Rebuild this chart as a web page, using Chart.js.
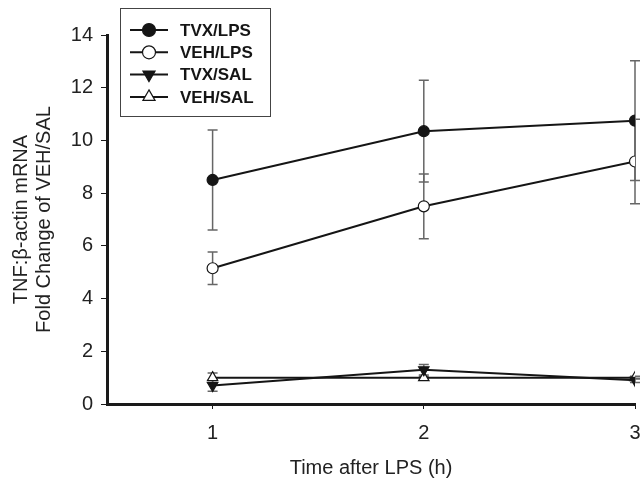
<!DOCTYPE html>
<html>
<head>
<meta charset="utf-8">
<script src="https://cdn.jsdelivr.net/npm/chart.js@4"></script>
<style>
  html, body { margin: 0; padding: 0; background: #fff; overflow: hidden; }
  #wrap { width: 700px; height: 480px; }
</style>
</head>
<body>
<div id="wrap"><canvas id="chart" width="700" height="480"></canvas></div>
<script>
// time points (h)
const hours = [1, 2, 3];
const yTicks = [0, 2, 4, 6, 8, 10, 12, 14];

// group means and error bars
const tvxLps = [8.5, 10.35, 10.75];
const tvxLpsErr = [1.9, 1.93, 2.27];
const vehLps = [5.15, 7.5, 9.2];
const vehLpsErr = [0.62, 1.23, 1.6];
const tvxSal = [0.7, 1.3, 0.9];
const tvxSalErr = [0.22, 0.2, 0.08];
const vehSal = [1.0, 1.0, 1.0];
const vehSalErr = [0.18, 0.05, 0.05];

const FONT = '"Liberation Sans", Arial, sans-serif';

function points(vals) {
  return hours.map((h, i) => ({ x: h, y: vals[i] }));
}

function makeSet(label, vals, errs, style, fill, rot) {
  return {
    label: label,
    data: points(vals),
    errors: errs,
    borderColor: '#151515',
    borderWidth: 2,
    pointStyle: style,
    pointRotation: rot || 0,
    pointRadius: style === 'triangle' ? 6 : 5.5,
    pointBackgroundColor: fill,
    pointBorderColor: '#151515',
    pointBorderWidth: 1.2,
    tension: 0
  };
}

// error bars, drawn with the chart's own scales
const errorBars = {
  id: 'errorBars',
  beforeDatasetsDraw(chart) {
    const ctx = chart.ctx;
    const xs = chart.scales.x, ys = chart.scales.y;
    ctx.save();
    ctx.strokeStyle = '#666';
    ctx.lineWidth = 1.5;
    chart.data.datasets.forEach(ds => {
      ds.data.forEach((p, i) => {
        const e = ds.errors[i];
        const px = xs.getPixelForValue(p.x);
        const top = ys.getPixelForValue(p.y + e);
        const bot = ys.getPixelForValue(p.y - e);
        ctx.beginPath();
        ctx.moveTo(px, top); ctx.lineTo(px, bot);
        ctx.moveTo(px - 5, top); ctx.lineTo(px + 5, top);
        ctx.moveTo(px - 5, bot); ctx.lineTo(px + 5, bot);
        ctx.stroke();
      });
    });
    ctx.restore();
  }
};

// boxed legend sitting over the top-left of the plot
const boxLegend = {
  id: 'boxLegend',
  afterDraw(chart) {
    const ctx = chart.ctx;
    ctx.save();
    ctx.strokeStyle = '#444';
    ctx.lineWidth = 1;
    ctx.strokeRect(120.5, 8.5, 150, 108);
    ctx.font = 'bold 17px ' + FONT;
    ctx.textBaseline = 'middle';
    chart.data.datasets.forEach((ds, i) => {
      const y = 30 + i * 22.3;
      ctx.strokeStyle = '#151515';
      ctx.lineWidth = 2;
      ctx.beginPath();
      ctx.moveTo(130, y); ctx.lineTo(168, y);
      ctx.stroke();
      ctx.fillStyle = ds.pointBackgroundColor;
      ctx.strokeStyle = '#151515';
      ctx.lineWidth = 1.2;
      Chart.helpers.drawPoint(ctx, {
        pointStyle: ds.pointStyle,
        rotation: ds.pointRotation,
        radius: ds.pointRadius + 1,
        borderWidth: 1.2
      }, 149, y);
      ctx.fillStyle = '#151515';
      ctx.fillText(ds.label, 180, y + 1);
    });
    ctx.restore();
  }
};

new Chart(document.getElementById('chart'), {
  type: 'line',
  data: {
    datasets: [
      makeSet('TVX/LPS', tvxLps, tvxLpsErr, 'circle', '#151515'),
      makeSet('VEH/LPS', vehLps, vehLpsErr, 'circle', '#ffffff'),
      makeSet('TVX/SAL', tvxSal, tvxSalErr, 'triangle', '#151515', 180),
      makeSet('VEH/SAL', vehSal, vehSalErr, 'triangle', '#ffffff')
    ]
  },
  options: {
    responsive: false,
    animation: false,
    layout: { padding: { top: 35, right: 65, left: 0, bottom: 0 } },
    plugins: { legend: { display: false }, tooltip: { enabled: false } },
    scales: {
      x: {
        type: 'linear',
        min: 0.5,
        max: 3,
        afterBuildTicks: s => { s.ticks = hours.map(v => ({ value: v })); },
        afterFit: s => { s.height = 76; },
        border: { display: true, color: '#1a1a1a', width: 3 },
        grid: { display: true, drawOnChartArea: false, drawTicks: true, tickLength: 5, color: '#1a1a1a', lineWidth: 1 },
        ticks: { color: '#222', padding: 12, font: { family: FONT, size: 20 } },
        title: { display: true, text: 'Time after LPS (h)', color: '#222', padding: { top: 10, bottom: 0 }, font: { family: FONT, size: 20 } }
      },
      y: {
        min: 0,
        max: 14,
        afterBuildTicks: s => { s.ticks = yTicks.map(v => ({ value: v })); },
        afterFit: s => { s.width = 107; },
        border: { display: true, color: '#1a1a1a', width: 3 },
        grid: { display: true, drawOnChartArea: false, drawTicks: true, tickLength: 6, color: '#1a1a1a', lineWidth: 1 },
        ticks: { color: '#222', padding: 8, font: { family: FONT, size: 20 } },
        title: {
          display: true,
          text: ['TNF:β-actin mRNA', 'Fold Change of VEH/SAL'],
          color: '#222',
          padding: { top: 10, bottom: 0 },
          font: { family: FONT, size: 20, lineHeight: 1.15 }
        }
      }
    }
  },
  plugins: [errorBars, boxLegend]
});
</script>
</body>
</html>
